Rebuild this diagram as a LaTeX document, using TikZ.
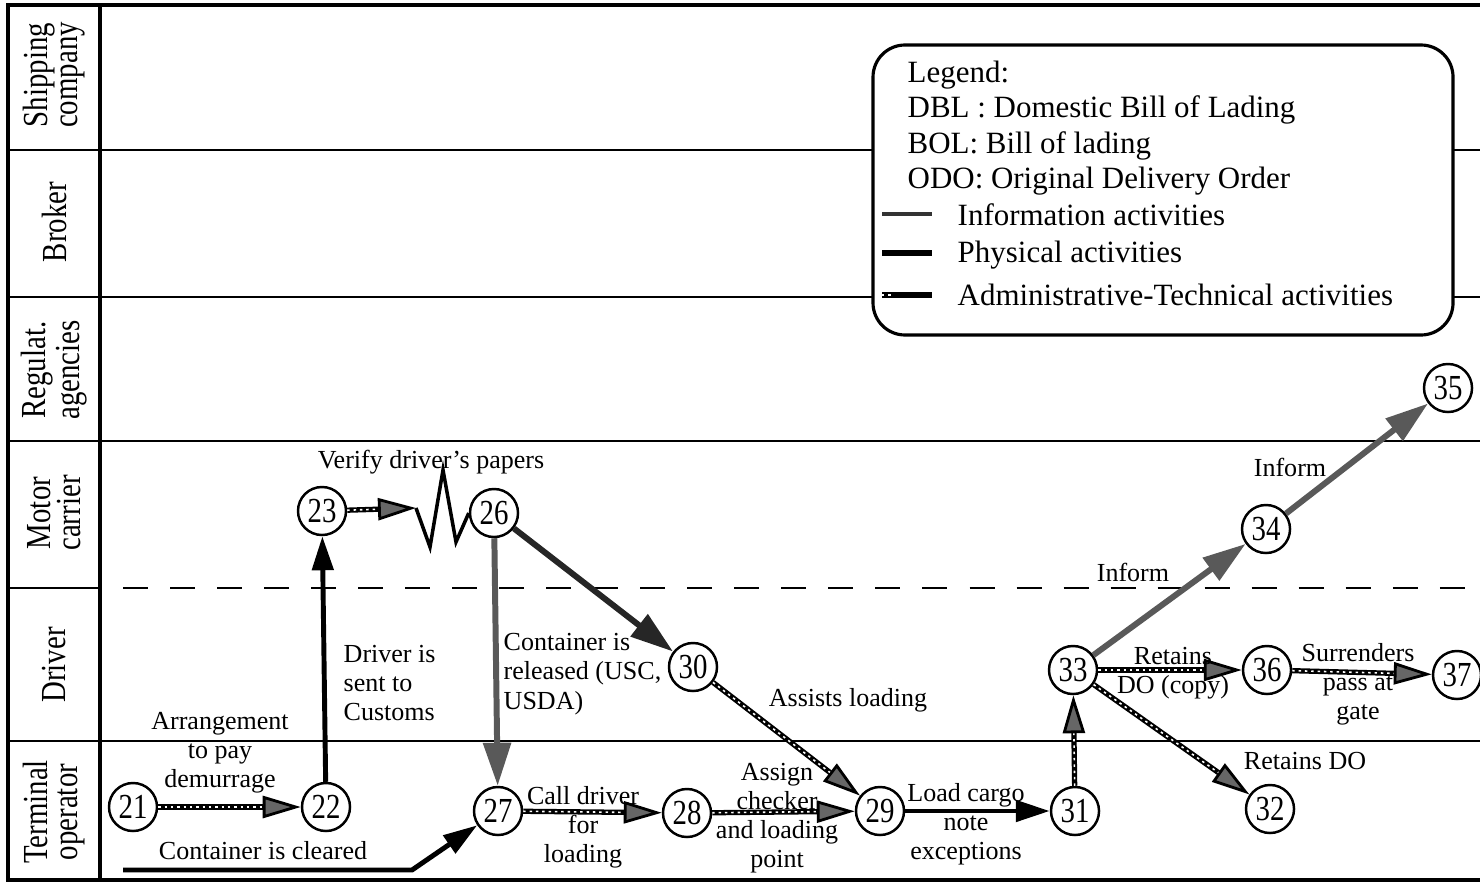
\documentclass[tikz,border=0pt]{standalone}
\usepackage{fontspec}
\setmainfont{Liberation Serif}
\newfontfamily\narrowfont[FakeStretch=0.82]{Liberation Serif}
\usetikzlibrary{arrows.meta}

\begin{document}
\begin{tikzpicture}[x=0.01cm, y=-0.01cm,
    evt/.style={circle, draw, line width=0.7pt, minimum size=4.8mm, inner sep=0pt, fill=white, font=\narrowfont\fontsize{10}{10}\selectfont},
    lbl/.style={align=center, inner sep=0pt, font=\fontsize{7.4}{8.3}\selectfont},
    lgd/.style={anchor=base west, inner sep=0pt, font=\fontsize{8.8}{10}\selectfont},
    lane/.style={line width=0.7pt},
    laneName/.style={rotate=90, align=center, inner sep=0pt, font=\narrowfont\fontsize{10}{8.6}\selectfont},
    phys/.style={line width=1.4pt, -{Triangle[length=3.4mm, width=2.1mm]}},
    info/.style={line width=1.7pt, draw=black!65, -{Triangle[length=4.3mm, width=2.7mm]}},
    adminline/.style={line width=1.5pt, postaction={draw=white, line width=0.45pt, dash pattern=on 0.7pt off 1.1pt, arrows=-, shorten >=3.8mm}},
    admin/.style={adminline, -{Triangle[length=3.8mm, width=2.2mm, fill=black!60, line width=0.8pt]}}]
	\useasboundingbox (0,0) rectangle (1480,882);

	% frame and lanes
	\draw[line width=1.4pt] (1480,5) -- (8,5) -- (8,880) -- (1480,880);
	\draw[line width=1.3pt] (100,5) -- (100,880);
	\foreach \y in {150,297,441,741}
		\draw[lane] (8,\y) -- (1480,\y);
	\draw[lane] (8,588) -- (100,588);
	\draw[lane, dash pattern=on 2.5mm off 2.2mm] (123,588) -- (1480,588);

	\node[laneName] (ship) at (54,75) {Shipping\\company};
	\node[laneName] (brok) at (54,222) {Broker};
	\node[laneName] (regu) at (54,370) {Regulat.\\agencies};
	\node[laneName] (moto) at (54,513) {Motor\\carrier};
	\node[laneName] (driv) at (54,665) {Driver};
	\node[laneName] (term) at (54,812) {Terminal\\operator};

	% legend
	\draw[fill=white, line width=0.9pt, rounded corners=3.2mm] (873,45) rectangle (1453,335);
	\node[lgd] (lg0) at (907,83) {Legend:};
	\node[lgd] (lg1) at (907,118) {DBL : Domestic Bill of Lading};
	\node[lgd] (lg2) at (907,153) {BOL: Bill of lading};
	\node[lgd] (lg3) at (907,188) {ODO: Original Delivery Order};
	\node[lgd] (lg4) at (957,225) {Information activities};
	\node[lgd] (lg5) at (957,262) {Physical activities};
	\node[lgd] (lg6) at (957,305) {Administrative-Technical activities};
	\draw[line width=1.3pt, black!80] (882,214) -- (932,214);
	\draw[line width=1.9pt] (882,253) -- (932,253);
	\draw[adminline] (882,295) -- (932,295);

	% events
	\node[evt] (n21) at (133,807) {21};
	\node[evt] (n22) at (326,807) {22};
	\node[evt] (n23) at (322,511) {23};
	\node[evt] (n26) at (494,513) {26};
	\node[evt] (n27) at (498,811) {27};
	\node[evt] (n28) at (687,813) {28};
	\node[evt] (n29) at (880,811) {29};
	\node[evt] (n30) at (693,667) {30};
	\node[evt] (n31) at (1075,811) {31};
	\node[evt] (n32) at (1270,809) {32};
	\node[evt] (n33) at (1073,670) {33};
	\node[evt] (n34) at (1266,529) {34};
	\node[evt] (n35) at (1448,388) {35};
	\node[evt] (n36) at (1267,670) {36};
	\node[evt] (n37) at (1457,675) {37};

	\coordinate (cc0) at (123,870);
	\coordinate (cc1) at (412,870);
	\coordinate (zz) at (416,508);

	% activities
	\draw[admin] (n21) -- (n22);
	\draw[phys] (n22) -- (n23);
	\draw[admin] (n23) -- (zz);
	\draw[line width=1pt, line join=miter] (zz) -- (430,547) -- (443,470) -- (456,542) -- (n26.west);
	\draw[info] (n26) -- (n27);
	\draw[info, draw=black!85] (n26) -- (n30);
	\draw[admin] (n30) -- (n29);
	\draw[phys] (cc0) -- (cc1) -- (n27);
	\draw[admin] (n27) -- (n28);
	\draw[admin] (n28) -- (n29);
	\draw[phys] (n29) -- (n31);
	\draw[admin] (n31) -- (n33);
	\draw[info] (n33) -- (n34);
	\draw[info] (n34) -- (n35);
	\draw[admin] (n33) -- (n36);
	\draw[admin] (n36) -- (n37);
	\draw[admin] (n33) -- (n32);

	% labels
	\node[lbl] (t21) at (220,753) {Arrangement\\to pay\\demurrage};
	\node[lbl, anchor=west, align=left] (t22) at (343,683) {Driver is\\sent to\\Customs};
	\node[lbl] (t23) at (431,462) {Verify driver's papers};
	\node[lbl, anchor=west, align=left] (t26) at (503,674) {Container is\\released (USC,\\USDA)};
	\node[lbl] (t30) at (848,700) {Assists loading};
	\node[lbl] (tcc) at (263,851) {Container is cleared};
	\node[lbl] (t27) at (583,827) {Call driver\\for\\loading};
	\node[lbl] (t28) at (777,818) {Assign\\checker\\and loading\\point};
	\node[lbl] (t29) at (966,824) {Load cargo\\note\\exceptions};
	\node[lbl] (t33) at (1133,572) {Inform};
	\node[lbl] (t34) at (1290,467) {Inform};
	\node[lbl] (t36) at (1173,673) {Retains\\DO (copy)};
	\node[lbl] (t37) at (1358,684) {Surrenders\\pass at\\gate};
	\node[lbl] (t32) at (1305,761) {Retains DO};
\end{tikzpicture}
\end{document}
